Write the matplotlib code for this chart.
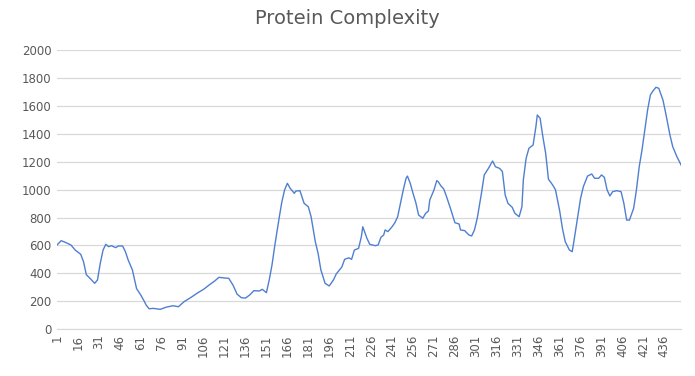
#!/usr/bin/env python3
"""Line chart of protein complexity along the sequence position."""

import matplotlib
matplotlib.use("Agg")
import matplotlib.pyplot as plt

# ---------------------------------------------------------------------------
# Data
# ---------------------------------------------------------------------------

N_POSITIONS = 448

positions = [
    1, 4, 7, 11, 14, 18, 20, 22, 25, 28, 30, 32, 34, 36, 38, 40, 43, 45, 48, 50,
    52, 55, 58, 61, 63, 65, 67, 70, 75, 79, 84, 88, 92, 97, 102, 106, 110, 114, 117, 121,
    124, 127, 130, 133, 136, 139, 142, 146, 148, 151, 153, 155, 157, 160, 162, 164, 166, 168, 171, 172,
    175, 176, 178, 181, 183, 186, 188, 190, 193, 196, 199, 201, 205, 207, 210, 212, 214, 217, 219, 220,
    223, 225, 229, 231, 233, 235, 236, 238, 241, 243, 245, 247, 249, 251, 252, 254, 256, 258, 260, 263,
    265, 267, 268, 271, 273, 274, 276, 278, 280, 283, 286, 289, 290, 293, 296, 298, 300, 302, 305, 307,
    310, 313, 315, 318, 320, 322, 324, 327, 329, 332, 334, 335, 337, 339, 342, 344, 345, 347, 349, 351,
    353, 356, 358, 361, 363, 365, 368, 370, 371, 374, 376, 378, 381, 384, 386, 389, 391, 393, 395, 397,
    399, 402, 405, 407, 409, 411, 414, 416, 418, 420, 422, 424, 426, 428, 430, 432, 435, 437, 440, 442,
    445, 448,
]

complexity = [
    603, 634, 622, 603, 567, 536, 483, 390, 360, 328, 352, 472, 567, 608, 591, 598, 584, 596, 596, 555,
    495, 424, 290, 244, 208, 170, 145, 148, 141, 156, 167, 160, 196, 227, 261, 285, 316, 345, 371, 366,
    364, 316, 250, 225, 222, 244, 275, 273, 285, 261, 352, 460, 600, 790, 910, 998, 1046, 1010, 974, 990,
    993, 962, 902, 878, 806, 627, 543, 424, 328, 309, 352, 395, 445, 500, 511, 500, 567, 579, 663, 734,
    651, 608, 598, 603, 658, 675, 711, 699, 734, 763, 806, 902, 998, 1082, 1098, 1046, 974, 907, 818, 795,
    830, 847, 926, 998, 1065, 1058, 1027, 1005, 950, 860, 763, 754, 711, 706, 675, 668, 711, 795, 974, 1106,
    1153, 1206, 1165, 1153, 1130, 962, 902, 874, 830, 806, 878, 1070, 1225, 1297, 1321, 1452, 1536, 1513, 1380, 1261,
    1075, 1034, 1000, 850, 723, 627, 567, 555, 615, 806, 938, 1022, 1098, 1113, 1082, 1082, 1106, 1089, 998, 955,
    986, 993, 986, 902, 782, 782, 866, 998, 1165, 1285, 1429, 1572, 1680, 1711, 1735, 1728, 1644, 1548, 1393, 1309,
    1237, 1177,
]

x_ticks = list(range(1, N_POSITIONS + 1, 15))
y_ticks = list(range(0, 2001, 200))

LINE_COLOR = "#4F7FD0"
TEXT_COLOR = "#595959"
GRID_COLOR = "#D9D9D9"


def main():
    fig = plt.figure(figsize=(6.95, 3.76), dpi=100)
    ax = fig.add_axes([0.082, 0.125, 0.898, 0.741])

    ax.plot(positions, complexity, color=LINE_COLOR, linewidth=1.0)

    ax.set_xlim(1, N_POSITIONS)
    ax.set_ylim(0, 2000)
    ax.set_xticks(x_ticks)
    ax.set_xticklabels([str(t) for t in x_ticks], rotation=90, fontsize=8.5, color=TEXT_COLOR)
    ax.set_yticks(y_ticks)
    ax.set_yticklabels([str(t) for t in y_ticks], fontsize=8.5, color=TEXT_COLOR)
    ax.tick_params(axis="both", length=0, pad=4)

    ax.grid(True, axis="y", color=GRID_COLOR, linewidth=0.9)
    ax.set_axisbelow(True)
    for side in ("top", "right", "left"):
        ax.spines[side].set_visible(False)
    ax.spines["bottom"].set_color(GRID_COLOR)

    fig.text(0.5, 0.95, "Protein Complexity", ha="center", va="center",
             fontsize=14, color=TEXT_COLOR)

    fig.savefig("out.png", dpi=100)
    plt.close(fig)


if __name__ == "__main__":
    main()
